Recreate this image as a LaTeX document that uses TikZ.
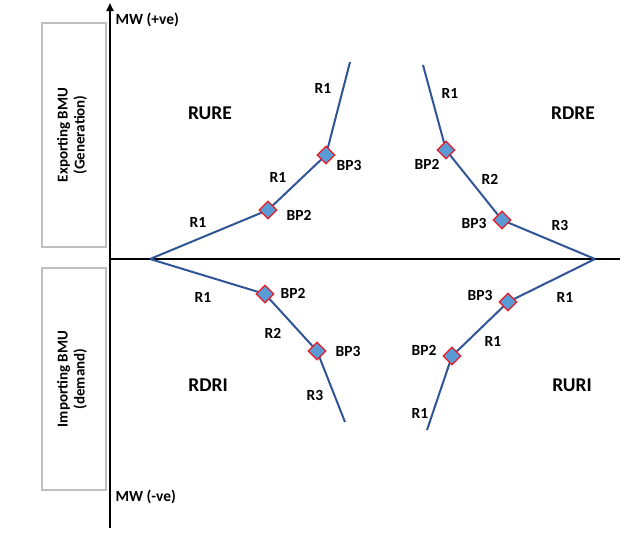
\documentclass[tikz,border=0pt]{standalone}
\usepackage{fontspec}
\setmainfont{Carlito}
\usetikzlibrary{arrows.meta,shapes.geometric}
\definecolor{curveblue}{RGB}{47,85,151}
\definecolor{bpfill}{RGB}{91,155,213}
\definecolor{bpred}{RGB}{237,28,36}
\definecolor{boxgray}{RGB}{191,191,191}
\tikzset{
  curve/.style={curveblue,line width=2pt},
  bp/.style={diamond,draw=bpred,fill=bpfill,line width=1.2pt,inner sep=0pt,minimum size=18pt},
  lbl/.style={font=\fontsize{15.5}{17}\selectfont\bfseries},
  sidelbl/.style={rotate=90,align=center,font=\fontsize{15}{17}\selectfont\bfseries},
  region/.style={font=\fontsize{19.5}{21}\selectfont\bfseries},
  sidebox/.style={draw=boxgray,line width=1.2pt}
}
\begin{document}
\begin{tikzpicture}[x=1pt,y=-1pt]
  \useasboundingbox (0,0) rectangle (644,547);
  % side boxes
  \draw[sidebox] (42,23) rectangle (106,247);
  \draw[sidebox] (42,268) rectangle (106,490);
  \node[sidelbl] (exp) at (72,135) {Exporting BMU\\(Generation)};
  \node[sidelbl] (imp) at (72,379) {Importing BMU\\(demand)};
  % axes
  \coordinate (ytop) at (110,3);
  \coordinate (ybot) at (110,528);
  \coordinate (xl) at (110,259);
  \coordinate (xr) at (620,259);
  \draw[line width=2pt,-{Triangle[length=8pt,width=7pt]}] (ybot) -- (ytop);
  \draw[line width=2pt] (xl) -- (xr);
  \node[lbl,anchor=west] (mwp) at (112,20) {MW (+ve)};
  \node[lbl,anchor=west] (mwn) at (112,497) {MW ({-}ve)};
  % region names
  \node[region] (rure) at (210,113) {RURE};
  \node[region] (rdre) at (573,113) {RDRE};
  \node[region] (rdri) at (208,385) {RDRI};
  \node[region] (ruri) at (572,385) {RURI};
  % curve ends and break points
  \coordinate (o1) at (150,259);
  \coordinate (o2) at (595,259);
  \coordinate (e1) at (350,62);
  \coordinate (e2) at (423,65);
  \coordinate (e3) at (345,422);
  \coordinate (e4) at (427,430);
  \coordinate (a2) at (268,210);
  \coordinate (a3) at (326,155);
  \coordinate (b2) at (446,150);
  \coordinate (b3) at (502,220);
  \coordinate (c2) at (265,294);
  \coordinate (c3) at (317,351);
  \coordinate (d3) at (508,302);
  \coordinate (d2) at (452,356);
  \draw[curve] (o1) -- (a2) -- (a3) -- (e1);
  \draw[curve] (e2) -- (b2) -- (b3) -- (o2);
  \draw[curve] (o1) -- (c2) -- (c3) -- (e3);
  \draw[curve] (o2) -- (d3) -- (d2) -- (e4);
  \foreach \n in {a2,a3,b2,b3,c2,c3,d3,d2}
    \node[bp] (bp\n) at (\n) {};
  % labels
  \node[lbl] (la1) at (198,222) {R1};
  \node[lbl] (la2) at (278,177) {R1};
  \node[lbl] (la3) at (323,88) {R1};
  \node[lbl] (lab2) at (299,215) {BP2};
  \node[lbl] (lab3) at (349,165) {BP3};
  \node[lbl] (lb1) at (450,93) {R1};
  \node[lbl] (lb2) at (490,179) {R2};
  \node[lbl] (lb3) at (560,225) {R3};
  \node[lbl] (lbb2) at (427,164) {BP2};
  \node[lbl] (lbb3) at (474,223) {BP3};
  \node[lbl] (lc1) at (203,297) {R1};
  \node[lbl] (lc2) at (273,333) {R2};
  \node[lbl] (lc3) at (315,395) {R3};
  \node[lbl] (lcb2) at (293,293) {BP2};
  \node[lbl] (lcb3) at (348,351) {BP3};
  \node[lbl] (ld1) at (565,297) {R1};
  \node[lbl] (ld2) at (493,341) {R1};
  \node[lbl] (ld3) at (420,413) {R1};
  \node[lbl] (ldb3) at (480,295) {BP3};
  \node[lbl] (ldb2) at (424,350) {BP2};
\end{tikzpicture}
\end{document}
